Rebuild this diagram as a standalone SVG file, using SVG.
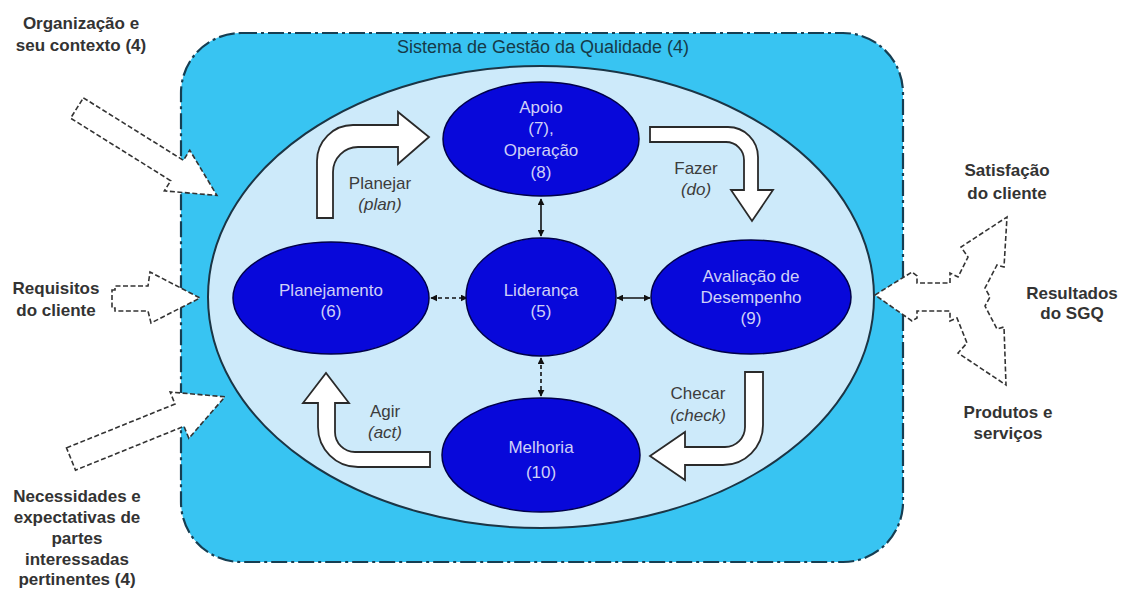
<svg xmlns="http://www.w3.org/2000/svg" width="1129" height="590" viewBox="0 0 1129 590">
<style>
.lbl{font-family:"Liberation Sans",Arial,sans-serif;font-weight:bold;font-size:17px;fill:#333;text-anchor:middle}
.node{fill:#0808da;stroke:#00004a;stroke-width:1.5}
.ntx{font-family:"Liberation Sans",Arial,sans-serif;font-size:17px;fill:#cfd0f7;text-anchor:middle}
.ptx{font-family:"Liberation Sans",Arial,sans-serif;font-size:17px;fill:#3c3c3c;text-anchor:middle}
.it{font-style:italic}
.blk{fill:#fff;stroke:#2a2a2a;stroke-width:1.8;stroke-linejoin:miter}
.io{fill:#fff;stroke:#333;stroke-width:1.6;stroke-dasharray:5 2.5}
.con{stroke:#111;stroke-width:1.6;fill:none}
.dash{stroke-dasharray:4 3}
</style>
<defs>
<marker id="ah" viewBox="0 0 10 10" refX="9" refY="5" markerWidth="7" markerHeight="7" markerUnits="userSpaceOnUse" orient="auto-start-reverse">
<path d="M0,0 L10,5 L0,10 Z" fill="#111"/>
</marker>
</defs>
<rect width="1129" height="590" fill="#fff"/>

<g id="sgq">
<rect x="181" y="33" width="722" height="529" rx="60" ry="60" fill="#38c4f2" stroke="#163e52" stroke-width="2.2" stroke-dasharray="16 4 3 4"/>
<text x="543" y="53" font-family="Liberation Sans, Arial, sans-serif" font-size="18" fill="#163a48" text-anchor="middle">Sistema de Gestão da Qualidade (4)</text>
<ellipse cx="541" cy="297" rx="333" ry="231" fill="#cdeafa" stroke="#1b3545" stroke-width="2"/>
</g>

<g id="input-organizacao">
<polygon class="io" transform="translate(77,108) rotate(32)" points="0,-12 118,-12 118,-24 165,0 118,24 118,12 0,12"/>
<text class="lbl" x="81" y="29">Organização e</text>
<text class="lbl" x="81" y="51">seu contexto (4)</text>
</g>
<g id="input-requisitos">
<polygon class="io" points="112,290 115,290 115,286 148,286 150,272 200,298 151,323 148,311 115,311 115,308 112,308"/>
<text class="lbl" x="56" y="294">Requisitos</text>
<text class="lbl" x="56" y="316">do cliente</text>
</g>
<g id="input-necessidades">
<polygon class="io" transform="translate(71,459) rotate(-22)" points="0,-12 117,-12 117,-25 166,0 117,25 117,12 0,12"/>
<text class="lbl" x="77" y="502">Necessidades e</text>
<text class="lbl" x="77" y="523">expectativas de</text>
<text class="lbl" x="77" y="544">partes</text>
<text class="lbl" x="77" y="565">interessadas</text>
<text class="lbl" x="77" y="585">pertinentes (4)</text>
</g>
<g id="output-resultados">
<polygon class="io" points="875,295 912,272 917,276 917,283 950,283 950,273 958,277 968,257 961,247 1007,217 1004,267 997,265 985,288 990,297 985,306 997,329 1004,327 1006,385 958,353 967,343 957,318 950,321 950,311 917,311 917,318 912,321"/>
<text class="lbl" x="1007" y="176">Satisfação</text>
<text class="lbl" x="1007" y="199">do cliente</text>
<text class="lbl" x="1072" y="299">Resultados</text>
<text class="lbl" x="1072" y="319">do SGQ</text>
<text class="lbl" x="1008" y="418">Produtos e</text>
<text class="lbl" x="1008" y="439">serviços</text>
</g>

<g id="pdca">
<path class="blk" d="M317,218 L317,161 A36,36 0 0 1 353,125 L398,125 L398,112 L429,137 L398,164 L398,147 L358,147 A25,25 0 0 0 333,172 L333,218 Z"/>
<text class="ptx" x="380" y="189">Planejar</text>
<text class="ptx it" x="380" y="210">(plan)</text>
<path class="blk" d="M650,127 L728,127 A30,30 0 0 1 758,157 L758,190 L773,190 L752,221 L731,190 L744,190 L744,160 A18,18 0 0 0 726,142 L650,142 Z"/>
<text class="ptx" x="696" y="174">Fazer</text>
<text class="ptx it" x="696" y="195">(do)</text>
<path class="blk" d="M745,372 L763,372 L763,425 A40,40 0 0 1 723,465 L685,465 L685,480 L650,456 L685,432 L685,447 L725,447 A20,20 0 0 0 745,427 Z"/>
<text class="ptx" x="698" y="399">Checar</text>
<text class="ptx it" x="698" y="421">(check)</text>
<path class="blk" d="M430,467 L358,467 A40,40 0 0 1 318,427 L318,403 L303,403 L326,373 L349,403 L335,403 L335,432 A20,20 0 0 0 355,452 L430,452 Z"/>
<text class="ptx" x="385" y="417">Agir</text>
<text class="ptx it" x="385" y="438">(act)</text>
</g>

<g id="connectors">
<line class="con" x1="541" y1="199" x2="541" y2="236" marker-start="url(#ah)" marker-end="url(#ah)"/>
<line class="con dash" x1="431" y1="298" x2="467" y2="298" marker-start="url(#ah)" marker-end="url(#ah)"/>
<line class="con" x1="617" y1="298" x2="650" y2="298" marker-start="url(#ah)" marker-end="url(#ah)"/>
<line class="con dash" x1="541" y1="358" x2="541" y2="396" marker-start="url(#ah)" marker-end="url(#ah)"/>
</g>

<g id="apoio">
<ellipse class="node" cx="541" cy="139" rx="98" ry="57"/>
<text class="ntx" x="541" y="113">Apoio</text>
<text class="ntx" x="541" y="134">(7),</text>
<text class="ntx" x="541" y="156">Operação</text>
<text class="ntx" x="541" y="178">(8)</text>
</g>
<g id="planejamento">
<ellipse class="node" cx="331" cy="298" rx="98" ry="56"/>
<text class="ntx" x="331" y="296">Planejamento</text>
<text class="ntx" x="331" y="317">(6)</text>
</g>
<g id="lideranca">
<ellipse class="node" cx="541" cy="297" rx="75" ry="59"/>
<text class="ntx" x="541" y="296">Liderança</text>
<text class="ntx" x="541" y="317">(5)</text>
</g>
<g id="avaliacao">
<ellipse class="node" cx="751" cy="297" rx="100" ry="57"/>
<text class="ntx" x="751" y="282">Avaliação de</text>
<text class="ntx" x="751" y="303">Desempenho</text>
<text class="ntx" x="751" y="324">(9)</text>
</g>
<g id="melhoria">
<ellipse class="node" cx="541" cy="455" rx="99" ry="57"/>
<text class="ntx" x="541" y="453">Melhoria</text>
<text class="ntx" x="541" y="478">(10)</text>
</g>
</svg>
